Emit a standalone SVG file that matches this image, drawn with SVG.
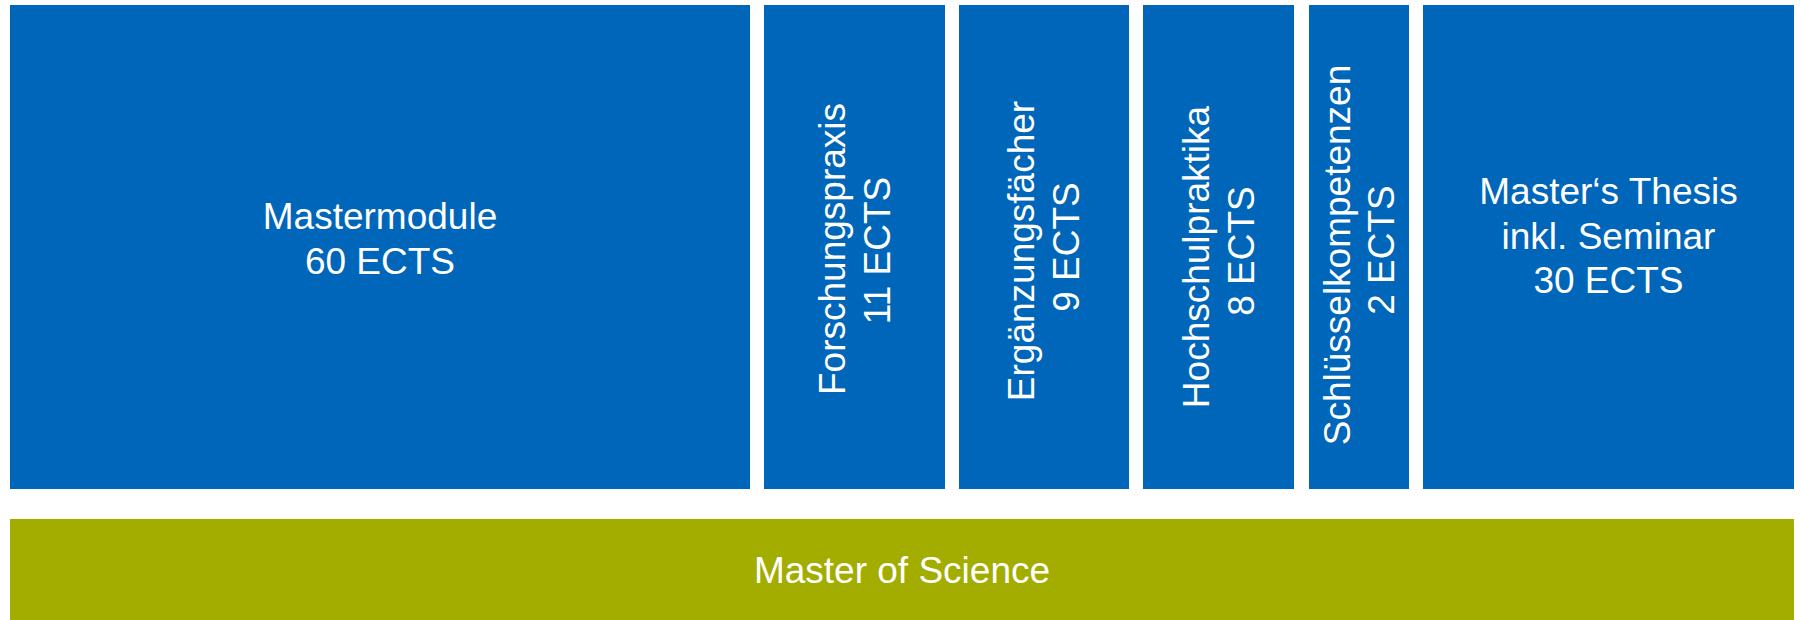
<svg xmlns="http://www.w3.org/2000/svg" width="1801" height="620" viewBox="0 0 1801 620">
<style>
.b{fill:#0066ba}
.g{fill:#a3ad00}
text{font-family:"Liberation Sans",Arial,sans-serif;font-size:37px;fill:#ffffff;text-anchor:middle}
</style>
<rect x="0" y="0" width="1801" height="620" fill="#ffffff"/>
<g id="mastermodule">
<rect class="b" x="10" y="5" width="740" height="484"/>
<text x="380" y="229">Mastermodule</text>
<text x="380" y="274">60 ECTS</text>
</g>
<g id="forschungspraxis">
<rect class="b" x="764" y="5" width="181" height="484"/>
<text transform="rotate(-90)" x="-249" y="845">Forschungspraxis</text>
<text transform="rotate(-90)" x="-250.5" y="890">11 ECTS</text>
</g>
<g id="ergaenzungsfaecher">
<rect class="b" x="959" y="5" width="170" height="484"/>
<text transform="rotate(-90)" x="-251" y="1034">Ergänzungsfächer</text>
<text transform="rotate(-90)" x="-247" y="1079">9 ECTS</text>
</g>
<g id="hochschulpraktika">
<rect class="b" x="1143" y="5" width="151" height="484"/>
<text transform="rotate(-90)" x="-257" y="1209">Hochschulpraktika</text>
<text transform="rotate(-90)" x="-251" y="1254">8 ECTS</text>
</g>
<g id="schluesselkompetenzen">
<rect class="b" x="1309" y="5" width="100" height="484"/>
<text transform="rotate(-90)" x="-255" y="1350">Schlüsselkompetenzen</text>
<text transform="rotate(-90)" x="-250" y="1394">2 ECTS</text>
</g>
<g id="thesis">
<rect class="b" x="1423" y="5" width="371" height="484"/>
<text x="1608.5" y="204">Master‘s Thesis</text>
<text x="1608.5" y="248.5">inkl. Seminar</text>
<text x="1608.5" y="293">30 ECTS</text>
</g>
<g id="master-of-science">
<rect class="g" x="10" y="519" width="1784" height="101"/>
<text x="902" y="583">Master of Science</text>
</g>
<g id="connectors"></g>
</svg>
